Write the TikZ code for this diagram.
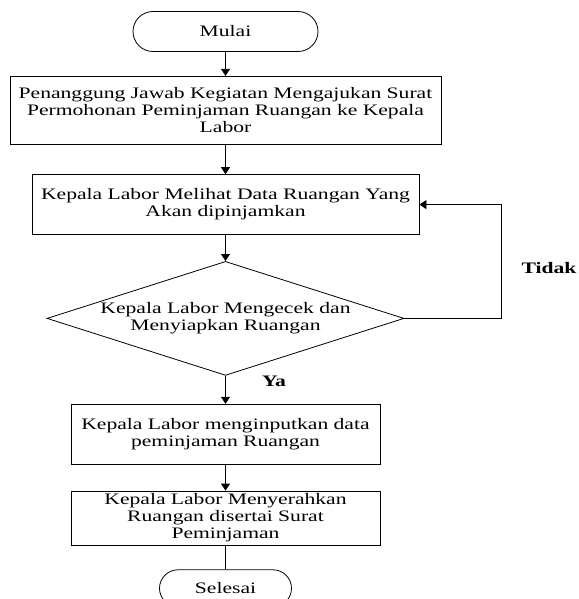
\documentclass[tikz,border=0pt]{standalone}
\usepackage{fontspec}
\setmainfont{Liberation Serif}[FakeStretch=1.35]
\usetikzlibrary{shapes,arrows.meta}
\usetikzlibrary{positioning}

\begin{document}
\begin{tikzpicture}[
    x = 1pt, y = -1pt,
    node distance = 26pt,
every node/.style = {inner sep=0pt, font=\fontsize{16}{17}\selectfont},
      ujung/.style = {rounded rectangle, draw, line width=0.8pt, minimum height=40pt},
     proses/.style = {rectangle, draw, line width=0.8pt, align=center, minimum height=60pt},
    putusan/.style = {diamond, draw, line width=0.8pt, align=center, aspect=3.13},
      garis/.style = {line width=0.8pt},
      panah/.style = {garis, -{Triangle[width=9pt,length=7pt]}}]
\useasboundingbox (0,0) rectangle (578,599);
\node[ujung, minimum width=185pt]  (mulai)  at (225.5,31.5) {Mulai};
\node[proses, below=24pt of mulai, text width=431pt, minimum height=68pt] (ajukan)
      {Penanggung Jawab Kegiatan Mengajukan Surat\\
       Permohonan Peminjaman Ruangan ke Kepala\\ Labor};
\node[proses, below=29.5pt of ajukan, text width=387pt] (lihat)
      {Kepala Labor Melihat Data Ruangan Yang\\ Akan dipinjamkan};
\node[putusan, below=of lihat, minimum width=357pt, minimum height=114pt] (cek)
      {Kepala Labor Mengecek dan\\ Menyiapkan Ruangan};
\node[proses, below=28pt of cek, text width=309pt] (input)
      {Kepala Labor menginputkan data\\ peminjaman Ruangan};
\node[proses, below=of input, text width=309pt, minimum height=54pt] (serah)
      {Kepala Labor Menyerahkan\\ Ruangan disertai Surat\\ Peminjaman};
\node[ujung, below=24pt of serah, minimum width=132pt, minimum height=37pt] (selesai) {Selesai};
\node[font=\fontsize{16}{17}\selectfont\bfseries] (tidak) at (549,268) {Tidak};
\node[font=\fontsize{16}{17}\selectfont\bfseries] (ya)    at (274,381) {Ya};
    \draw[panah] (mulai) -- (ajukan);
    \draw[panah] (ajukan) -- (lihat);
    \draw[panah] (lihat) -- (cek);
    \draw[panah] (cek) -- (input);
    \draw[panah] (input) -- (serah);
    \draw[garis] (serah) -- (selesai);
    \draw[panah] (cek.east) -- ++(97pt,0pt) |- (lihat.east);
    \end{tikzpicture}
\end{document}
